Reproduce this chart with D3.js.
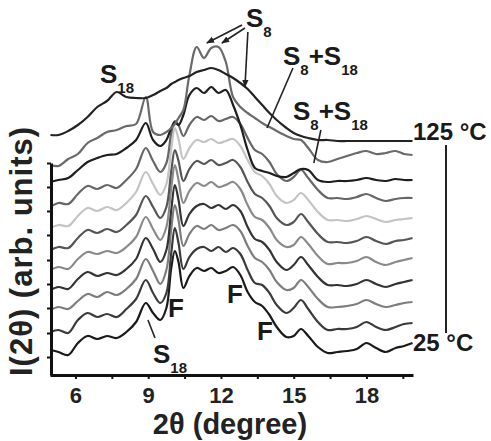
<!DOCTYPE html>
<html>
<head>
<meta charset="utf-8">
<script src="https://cdn.jsdelivr.net/npm/d3@7"></script>
<style>
  body { margin: 0; background: #fff; }
  svg { display: block; font-family: "Liberation Sans", Arial, sans-serif; }
</style>
</head>
<body>
<div id="chart"></div>
<script>
// 2theta grid (degree) shared by all patterns
const twoTheta = [4.97, 5.3, 5.7, 6.1, 6.5, 6.9, 7.3, 7.7, 8.1, 8.5,
  8.9, 9.2, 9.5, 9.75, 9.95, 10.1, 10.25, 10.45, 10.7, 11.0,
  11.3, 11.6, 11.9, 12.2, 12.5, 12.8, 13.1, 13.4, 13.7, 14.0,
  14.3, 14.7, 15.0, 15.3, 15.6, 16.0, 16.4, 16.8, 17.2, 17.6,
  18.0, 18.4, 18.8, 19.2, 19.55, 19.9];

// intensities (arb. units), one array per temperature
const I25 = [25, 23, 20, 32, 39, 36, 39, 37, 43, 53, 72, 62, 55, 67, 107, 124, 113, 87, 99, 107,
  104, 107, 102, 104, 108, 100, 83, 73, 69, 60, 48, 38, 39, 46, 39, 28, 22, 23, 24, 26,
  32, 27, 23, 27, 29, 32];
const I35 = [23, 25, 22, 35, 42, 38, 41, 38, 46, 56, 75, 62, 52, 62, 102, 127, 112, 86, 98, 106,
  108, 104, 108, 103, 107, 101, 85, 72, 70, 62, 50, 42, 47, 55, 46, 33, 25, 26, 26, 28,
  33, 28, 25, 28, 31, 32];
const I45 = [24, 27, 25, 33, 40, 37, 42, 39, 45, 55, 75, 63, 50, 64, 105, 129, 114, 88, 100, 108,
  105, 109, 104, 106, 109, 103, 88, 76, 72, 64, 52, 44, 46, 54, 47, 35, 27, 27, 28, 30,
  34, 30, 27, 29, 31, 32];
const I55 = [23, 26, 24, 34, 41, 37, 40, 38, 44, 54, 75, 64, 51, 63, 103, 128, 113, 87, 99, 107,
  109, 105, 108, 104, 108, 102, 86, 74, 71, 63, 51, 43, 48, 56, 48, 36, 28, 28, 27, 29,
  33, 29, 26, 29, 31, 33];
const I65 = [22, 25, 23, 33, 40, 38, 41, 39, 45, 55, 75, 63, 52, 65, 104, 127, 112, 89, 101, 109,
  106, 110, 105, 107, 110, 103, 87, 75, 72, 64, 52, 45, 47, 55, 48, 36, 28, 29, 29, 31,
  35, 30, 27, 30, 32, 34];
const I75 = [21, 24, 23, 33, 41, 38, 42, 39, 46, 56, 75, 64, 53, 64, 100, 121, 110, 90, 102, 110,
  107, 111, 106, 108, 111, 104, 89, 77, 73, 65, 53, 46, 49, 57, 49, 37, 29, 29, 28, 30,
  34, 30, 27, 30, 31, 33];
const I85 = [22, 25, 24, 34, 42, 39, 43, 40, 47, 58, 78, 66, 55, 66, 101, 122, 111, 91, 102, 110,
  108, 111, 107, 109, 111, 104, 90, 78, 74, 66, 54, 47, 50, 57, 50, 38, 30, 30, 29, 31,
  34, 31, 28, 30, 31, 32];
const I95 = [22, 26, 25, 35, 43, 40, 44, 41, 49, 60, 81, 68, 57, 66, 96, 108, 104, 93, 104, 112,
  109, 113, 108, 110, 112, 105, 91, 79, 75, 67, 55, 48, 52, 59, 51, 39, 31, 31, 30, 32,
  35, 31, 28, 30, 31, 31];
const I105 = [28, 30, 32, 40, 48, 52, 55, 56, 62, 70, 87, 70, 64, 70, 82, 88, 85, 95, 115, 122,
  117, 123, 117, 120, 105, 85, 60, 42, 39, 37, 34, 33, 37, 41, 40, 30, 28, 29, 29, 30,
  32, 30, 29, 31, 30, 30];
const I115 = [25, 24, 31, 36, 47, 52, 58, 60, 64, 66, 93, 58, 55, 58, 62, 66, 72, 80, 115, 143,
  132, 142, 143, 128, 93, 83, 77, 72, 67, 63, 59, 54, 51, 50, 42, 30, 28, 31, 34, 37,
  39, 36, 37, 39, 36, 35];
const I125 = [30, 30, 34, 40, 48, 58, 64, 73, 68, 67, 67, 70, 74, 77, 81, 83, 85, 87, 89, 93,
  95, 97, 95, 91, 87, 82, 76, 68, 60, 52, 45, 37, 32, 29, 27, 25, 25, 24, 24, 24,
  24, 24, 24, 24, 24, 24];

const temps = [25, 35, 45, 55, 65, 75, 85, 95, 105, 115, 125];
const series = [I25, I35, I45, I55, I65, I75, I85, I95, I105, I115, I125];
const offsets = [0, 20, 41, 62, 83, 104, 125, 146, 165, 185, 210];
const colors = ["#1a1a1a", "#3a3a3a", "#7d7d7d", "#333", "#8a8a8a", "#555",
  "#c4c4c4", "#666", "#1e1e1e", "#6a6a6a", "#222"];

const xTicks = [6, 7.5, 9, 10.5, 12, 13.5, 15, 16.5, 18, 19.5];
const xLabels = [6, 9, 12, 15, 18];
const yTicks = [18, 42, 67, 91, 115, 140, 164, 188, 212];

const width = 491, height = 441;
const font = "'Liberation Sans', Arial, sans-serif";

let svg = d3.select("#chart").append("svg")
  .attr("width", width)
  .attr("height", height);

let x = d3.scaleLinear().domain([4.95, 19.92]).range([50, 413]);
let y = d3.scaleLinear().domain([0, 335]).range([375, 40]);

// arrowhead
svg.append("defs").append("marker")
  .attr("id", "ah")
  .attr("viewBox", "0 0 10 10")
  .attr("refX", 9).attr("refY", 5)
  .attr("markerWidth", 5).attr("markerHeight", 5)
  .attr("orient", "auto")
  .append("path").attr("d", "M0,1L10,5L0,9z").attr("fill", "#222");

// stacked patterns
let line = d3.line()
  .x((d, i) => x(twoTheta[i]))
  .y((d) => y(d))
  .curve(d3.curveCatmullRom.alpha(0.5));

series.forEach((s, k) => {
  svg.append("path")
    .datum(s.map((v) => v + offsets[k]))
    .attr("fill", "none")
    .attr("stroke", colors[k])
    .attr("stroke-width", 2.2)
    .attr("stroke-linejoin", "round")
    .attr("d", line);
});

// x axis
let gx = svg.append("g")
  .attr("transform", "translate(0," + y(0) + ")")
  .call(d3.axisBottom(x).tickValues(xTicks).tickSize(4).tickSizeOuter(0).tickPadding(8)
    .tickFormat((d) => (xLabels.includes(d) ? d : "")));
gx.attr("font-family", font).attr("font-size", 22).attr("font-weight", "bold");
gx.select(".domain").attr("stroke", "#111").attr("stroke-width", 3);
gx.selectAll(".tick line").attr("stroke", "#111").attr("stroke-width", 2);
gx.selectAll(".tick text").attr("fill", "#222");

// y axis (no labels)
let yAx = d3.scaleLinear().domain([0, 212]).range([y(0), y(212)]);
let gy = svg.append("g")
  .attr("transform", "translate(51,0)")
  .call(d3.axisLeft(yAx).tickValues(yTicks).tickSize(4).tickSizeOuter(0).tickFormat(""));
gy.select(".domain").attr("stroke", "#111").attr("stroke-width", 3);
gy.selectAll(".tick line").attr("stroke", "#111").attr("stroke-width", 2);

// axis titles
svg.append("text")
  .attr("x", 230).attr("y", 434)
  .attr("text-anchor", "middle")
  .attr("font-family", font).attr("font-size", 29).attr("font-weight", "bold")
  .attr("fill", "#222")
  .text("2θ (degree)");

svg.append("text")
  .attr("transform", "translate(32,251) rotate(-90)")
  .attr("text-anchor", "middle")
  .attr("font-family", font).attr("font-size", 31).attr("font-weight", "bold")
  .attr("letter-spacing", 1)
  .attr("fill", "#222")
  .text("I(2θ) (arb. units)");

// peak labels
function label(px, py, main, sub, size) {
  let t = svg.append("text")
    .attr("x", px).attr("y", py)
    .attr("font-family", font).attr("font-weight", "bold")
    .attr("font-size", size || 26).attr("fill", "#1a1a1a");
  main.forEach((m, i) => {
    t.append("tspan").attr("dy", i === 0 ? 0 : -10).text(m);
    if (sub[i]) t.append("tspan").attr("font-size", 15).attr("dy", 10).text(sub[i]);
  });
}
label(100, 83, ["S"], ["18"]);
label(246, 27, ["S"], ["8"]);
label(283, 65, ["S", "+S"], ["8", "18"]);
label(293, 120, ["S", "+S"], ["8", "18"]);
label(153, 363, ["S"], ["18"]);
label(168, 317, ["F"], []);
label(227, 303, ["F"], []);
label(257, 340, ["F"], []);

// pointers, in data coordinates
const arrows = [
  [12.87, 350, 11.42, 332],
  [12.99, 347, 12.04, 332],
  [13.11, 343, 12.99, 288]
];
const pointers = [
  [14.97, 307, 13.90, 247],
  [16.12, 245, 15.83, 212],
  [8.99, 55, 9.28, 37]
];
arrows.forEach((a) => {
  svg.append("line")
    .attr("x1", x(a[0])).attr("y1", y(a[1]))
    .attr("x2", x(a[2])).attr("y2", y(a[3]))
    .attr("stroke", "#222").attr("stroke-width", 1.6)
    .attr("marker-end", "url(#ah)");
});
pointers.forEach((a) => {
  svg.append("line")
    .attr("x1", x(a[0])).attr("y1", y(a[1]))
    .attr("x2", x(a[2])).attr("y2", y(a[3]))
    .attr("stroke", "#222").attr("stroke-width", 1.6);
});

// temperature bar
svg.append("line")
  .attr("x1", x(21.28)).attr("x2", x(21.28))
  .attr("y1", y(230)).attr("y2", y(42))
  .attr("stroke", "#222").attr("stroke-width", 2);

svg.append("text")
  .attr("x", 413).attr("y", 140)
  .attr("font-family", font).attr("font-size", 24).attr("font-weight", "bold")
  .attr("fill", "#1a1a1a")
  .text(temps[temps.length - 1] + " °C");
svg.append("text")
  .attr("x", 413).attr("y", 351)
  .attr("font-family", font).attr("font-size", 24).attr("font-weight", "bold")
  .attr("fill", "#1a1a1a")
  .text(temps[0] + " °C");
</script>
</body>
</html>
